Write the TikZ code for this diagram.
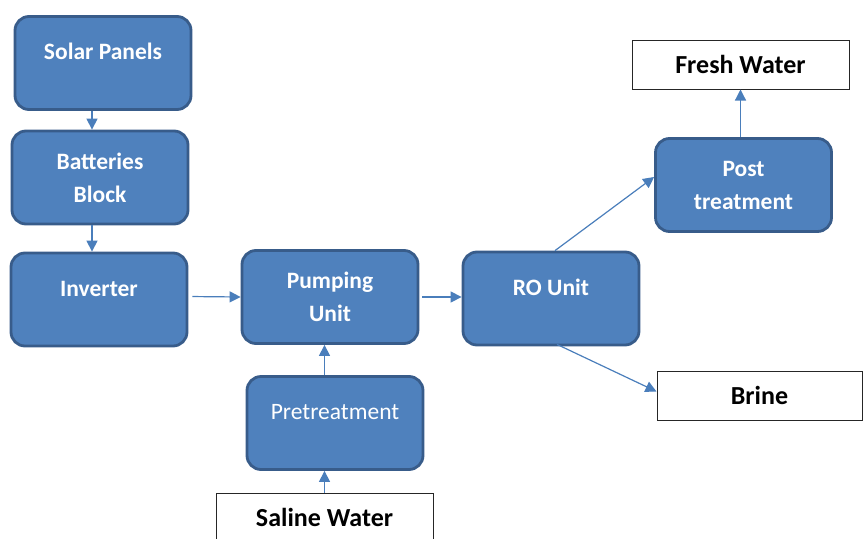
\documentclass[tikz,border=0pt]{standalone}
\usepackage{fontspec}
\setmainfont{Carlito}
\usetikzlibrary{arrows.meta}
\definecolor{boxblue}{RGB}{79,129,189}
\definecolor{boxedge}{RGB}{56,92,138}
\definecolor{linkblue}{RGB}{74,126,187}
\tikzset{>={Triangle[length=11pt,width=11pt]}}
\tikzset{
  unit/.style={draw=boxedge, line width=2.8pt, fill=boxblue, rounded corners=14pt,
    text=white, font=\fontsize{23.5pt}{33pt}\selectfont\bfseries, align=center,
    minimum width=176pt, minimum height=93pt, inner sep=0pt},
  oneline/.style={text height=17.5pt, text depth=24.5pt},
  stream/.style={draw=black!85, line width=1pt, fill=white,
    font=\fontsize{26pt}{30pt}\selectfont\bfseries,
    minimum width=217pt, minimum height=49pt, inner sep=0pt},
  link/.style={->, draw=linkblue, line width=1.2pt}
}

\begin{document}
\begin{tikzpicture}[x=1pt, y=-1pt]
    \useasboundingbox (0,0) rectangle (864,538);
    % power side
    \node[unit, oneline] (solar) at (103,63) {Solar Panels};
    \node[unit] (batteries) at (100,177.5) {Batteries\\Block};
    \node[unit, oneline] (inverter) at (99,299.5) {Inverter};
    % water side
    \node[unit] (pumping) at (330,297) {Pumping\\Unit};
    \node[unit, oneline, font=\fontsize{23.5pt}{28pt}\selectfont] (pretreat) at (335,423) {Pretreatment};
    \node[unit, oneline] (ro) at (551,298.5) {RO Unit};
    \node[unit] (post) at (743.5,185) {Post\\treatment};
    % inlet and outlets
    \node[stream] (saline) at (324.5,517.5) {Saline Water};
    \node[stream] (fresh) at (740.5,64.5) {Fresh Water};
    \node[stream, minimum width=205pt] (brine) at (759.5,395.5) {Brine};
    % connectors
    \draw[link] ([xshift=-11pt]solar.south) -- ([xshift=-11pt]solar.south |- batteries.north);
    \draw[link] ([xshift=-8pt]batteries.south) -- ([xshift=-8pt]batteries.south |- inverter.north);
    \draw[link, shorten <=4pt] ([yshift=3pt]inverter.east) -- (pumping.west);
    \draw[link, shorten <=3pt] (pumping.east) -- (pumping.east -| ro.west);
    \draw[link] (saline.north) -- (saline.north |- pretreat.south);
    \draw[link] (saline.north |- pretreat.north) -- (saline.north |- pumping.south);
    \draw[link] ([xshift=4pt]ro.north) -- ([yshift=8pt]post.west);
    \draw[link] ([xshift=6pt,yshift=2pt]ro.south) -- ([yshift=4pt]brine.west);
    \draw[link] (fresh.south |- post.north) -- (fresh.south);
\end{tikzpicture}
\end{document}
